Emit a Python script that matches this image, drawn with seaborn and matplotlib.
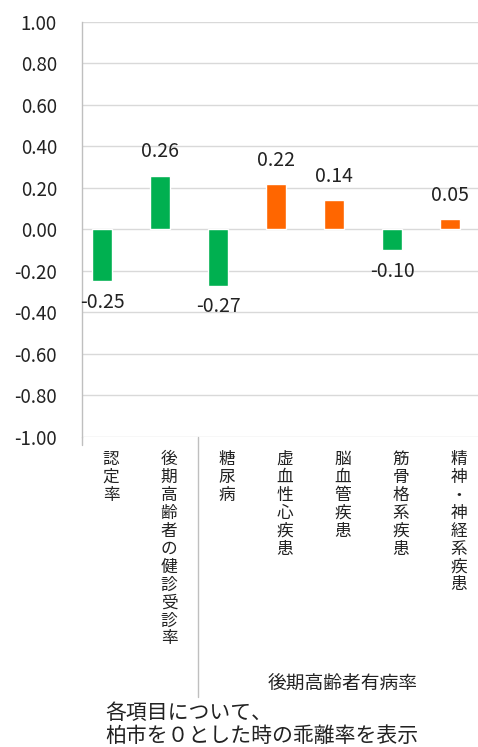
import matplotlib
matplotlib.use("Agg")
import matplotlib.pyplot as plt
import matplotlib.transforms as mtransforms
import numpy as np
import pandas as pd
import seaborn as sns

# chart data
categories = ["認定率", "後期高齢者の健診受診率", "糖尿病", "虚血性心疾患",
              "脳血管疾患", "筋骨格系疾患", "精神・神経系疾患"]
values = [-0.25, 0.26, -0.27, 0.22, 0.14, -0.10, 0.05]
bar_group = ["good", "good", "good", "bad", "bad", "good", "bad"]
group_label = "後期高齢者有病率"
note_lines = ["各項目について、", "柏市を０とした時の乖離率を表示"]
y_ticks = [-1.0, -0.8, -0.6, -0.4, -0.2, 0.0, 0.2, 0.4, 0.6, 0.8, 1.0]

palette = {"good": "#00B050", "bad": "#FF6600"}

sns.set_theme(style="white")
plt.rcParams['font.family'] = ['Noto Sans CJK JP', 'DejaVu Sans']

W, H = 478, 747
fig = plt.figure(figsize=(W / 100, H / 100), dpi=100)
ax = fig.add_axes([82 / W, 1 - 437 / H, 406 / W, 415 / H])

# bars sit a little left of the category centre (like excel with an empty 2nd series)
df = pd.DataFrame({"pos": np.arange(len(values)) - 0.155, "value": values, "grp": bar_group})
sns.barplot(data=df, x="pos", y="value", hue="grp", palette=palette, native_scale=True,
            width=0.34, dodge=False, legend=False, saturation=1, ax=ax)

ax.set_xlim(-0.5, 6.5)
ax.set_ylim(-1.0, 1.0)
ax.set_yticks(y_ticks)
ax.set_yticklabels(["%.2f" % v for v in y_ticks], fontsize=13.5, color="#222222")
ax.tick_params(axis="y", length=0, pad=18)
ax.set_xticks([])
ax.set_xlabel("")
ax.set_ylabel("")
ax.yaxis.grid(True, color="#D9D9D9", lw=1)
ax.set_axisbelow(True)
for s in ["top", "right", "bottom"]:
    ax.spines[s].set_visible(False)
ax.spines["left"].set_color("#BFBFBF")
ax.spines["left"].set_linewidth(1)

# data labels
for p, v in zip(df["pos"], df["value"]):
    off = 17 if v >= 0 else -15
    ax.annotate("%.2f" % v, (p, v), xytext=(0, off), textcoords="offset points",
                ha="center", va="center", fontsize=14, color="#222222")

# category labels, vertical stacked characters
trans = mtransforms.blended_transform_factory(ax.transData, ax.transAxes)
for i, c in enumerate(categories):
    ax.text(i, -0.034, "\n".join(c), transform=trans, ha="center", va="top",
            fontsize=12, linespacing=1.07, color="#222222")

# group label and separator lines
ax.text(np.mean(range(2, 7)), -0.593, group_label, transform=trans,
        ha="center", va="center", fontsize=13.5, color="#222222")
ax.plot([1.5, 1.5], [0, -0.627], transform=trans, color="#BFBFBF", lw=1, clip_on=False)
ax.plot([-0.5, -0.5], [0, -0.02], transform=trans, color="#BFBFBF", lw=1, clip_on=False)

# note under the chart
fig.text(105 / W, 1 - 713 / H, note_lines[0], ha="left", va="center", fontsize=15, color="#222222")
fig.text(105 / W, 1 - 736 / H, note_lines[1], ha="left", va="center", fontsize=15, color="#222222")

fig.savefig("out.png", dpi=100)
